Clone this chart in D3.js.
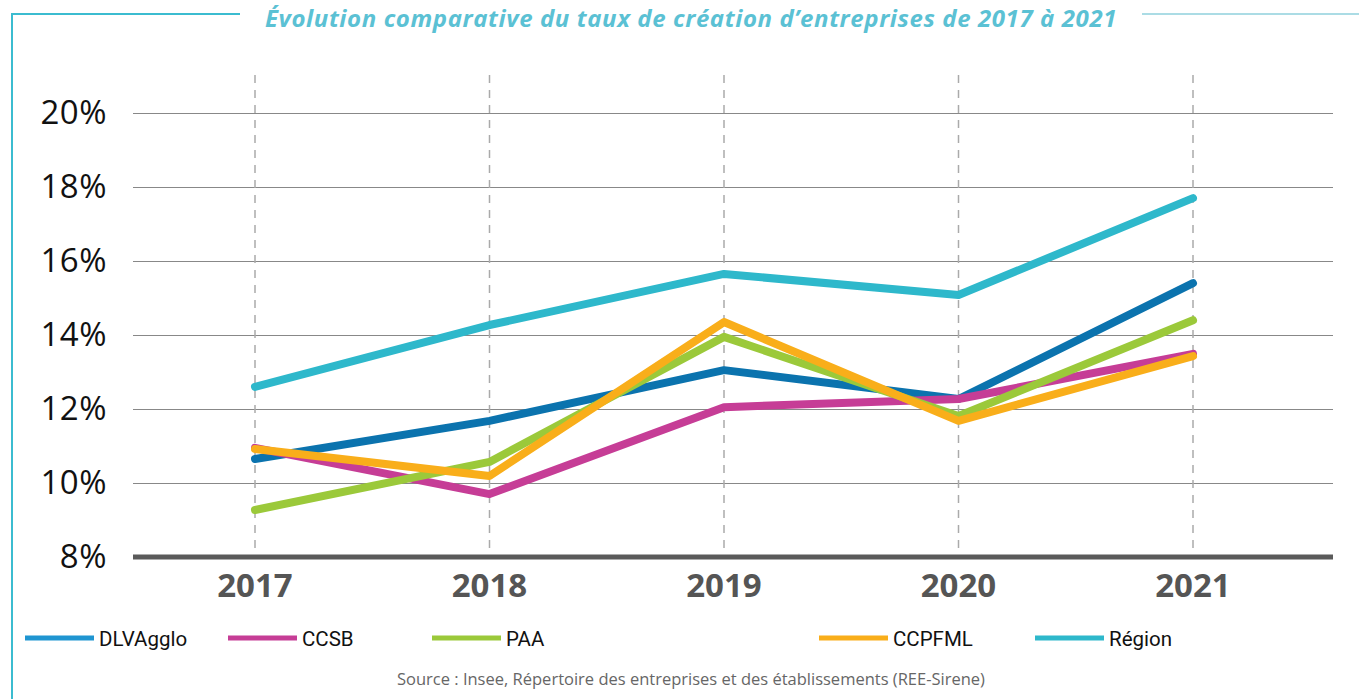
<!DOCTYPE html>
<html>
<head>
<meta charset="utf-8">
<script src="https://cdn.jsdelivr.net/npm/d3@7"></script>
<style>
  body { margin: 0; background: #fff; }
  svg { display: block; font-family: "Open Sans", "DejaVu Sans", sans-serif; }
</style>
</head>
<body>
<div id="chart"></div>
<script>
// données
const years = ["2017", "2018", "2019", "2020", "2021"];
const seriesNames = ["DLVAgglo", "CCSB", "PAA", "CCPFML", "Région"];
const dlvagglo = [10.65, 11.68, 13.05, 12.27, 15.4];
const ccsb = [10.95, 9.7, 12.05, 12.27, 13.49];
const paa = [9.27, 10.57, 13.95, 11.81, 14.4];
const ccpfml = [10.92, 10.19, 14.35, 11.68, 13.43];
const region = [12.6, 14.27, 15.65, 15.08, 17.7];
const yTicks = [8, 10, 12, 14, 16, 18, 20];

const lineColors = ["#0b73ae", "#c63d96", "#9bc93a", "#f9ae1a", "#2eb8cb"];
const legendColors = ["#1f95d1", "#c63d96", "#9bc93a", "#f9ae1a", "#2eb8cb"];

const W = 1359, H = 699;
const svg = d3.select("#chart").append("svg")
  .attr("width", W).attr("height", H);

// cadre
svg.append("line").attr("x1", 12).attr("x2", 12).attr("y1", 13).attr("y2", H)
  .attr("stroke", "#3bbcd0").attr("stroke-width", 2);
svg.append("line").attr("x1", 11).attr("x2", 240).attr("y1", 14).attr("y2", 14)
  .attr("stroke", "#3bbcd0").attr("stroke-width", 2);
svg.append("line").attr("x1", 1142).attr("x2", W).attr("y1", 14).attr("y2", 14)
  .attr("stroke", "#8fd0dc").attr("stroke-width", 1.5);

// titre
svg.append("text")
  .attr("x", 691).attr("y", 27)
  .attr("text-anchor", "middle")
  .attr("font-size", 24).attr("font-weight", "bold").attr("font-style", "italic")
  .attr("letter-spacing", 0.6)
  .attr("fill", "#5bc1d4")
  .text("Évolution comparative du taux de création d’entreprises de 2017 à 2021");

// échelles
const x = d3.scalePoint().domain(years).range([255, 1193]);
const y = d3.scaleLinear().domain([8, 20]).range([557, 113]);
const plotLeft = 133, plotRight = 1333;

// grille horizontale
const yAxis = d3.axisLeft(y).tickValues(yTicks.filter(t => t > 8))
  .tickSize(-(plotRight - plotLeft)).tickFormat("");
svg.append("g").attr("transform", `translate(${plotLeft},0)`).call(yAxis)
  .call(g => g.select(".domain").remove())
  .call(g => g.selectAll("line").attr("stroke", "#888").attr("stroke-width", 1.2));

// étiquettes y
svg.append("g").selectAll("text").data(yTicks).join("text")
  .attr("x", 107).attr("y", d => y(d) + 11)
  .attr("text-anchor", "end")
  .attr("font-size", 33).attr("fill", "#111")
  .attr("letter-spacing", 0.5)
  .text(d => d + "%");

// lignes verticales pointillées
svg.append("g").selectAll("line").data(years).join("line")
  .attr("x1", d => x(d)).attr("x2", d => x(d))
  .attr("y1", 75).attr("y2", 557)
  .attr("stroke", "#aaa").attr("stroke-width", 1.5)
  .attr("stroke-dasharray", "8,7");

// axe du bas
svg.append("line").attr("x1", plotLeft).attr("x2", plotRight)
  .attr("y1", y(8)).attr("y2", y(8))
  .attr("stroke", "#5a5a5a").attr("stroke-width", 5);

// étiquettes x
svg.append("g").selectAll("text").data(years).join("text")
  .attr("x", d => x(d)).attr("y", 597)
  .attr("text-anchor", "middle")
  .attr("font-size", 33).attr("font-weight", "bold").attr("fill", "#555")
  .text(d => d);

// séries
const allSeries = [dlvagglo, ccsb, paa, ccpfml, region];
const line = d3.line().x((d, i) => x(years[i])).y(d => y(d));
svg.append("g").selectAll("path").data(allSeries).join("path")
  .attr("d", d => line(d))
  .attr("fill", "none")
  .attr("stroke", (d, i) => lineColors[i])
  .attr("stroke-width", 8)
  .attr("stroke-linecap", "round")
  .attr("stroke-linejoin", "round");

// légende
const legendX = [25, 228, 432, 819, 1035];
const lg = svg.append("g").selectAll("g").data(seriesNames).join("g")
  .attr("transform", (d, i) => `translate(${legendX[i]},638)`);
lg.append("line").attr("x1", 0).attr("x2", 69)
  .attr("stroke", (d, i) => legendColors[i]).attr("stroke-width", 5);
lg.append("text").attr("x", 74).attr("y", 8)
  .attr("font-family", "Roboto, sans-serif")
  .attr("font-size", 20.5).attr("fill", "#111")
  .text(d => d);

// source
svg.append("text")
  .attr("x", 691).attr("y", 685)
  .attr("text-anchor", "middle")
  .attr("font-size", 16.5).attr("fill", "#666")
  .text("Source : Insee, Répertoire des entreprises et des établissements (REE-Sirene)");
</script>
</body>
</html>
